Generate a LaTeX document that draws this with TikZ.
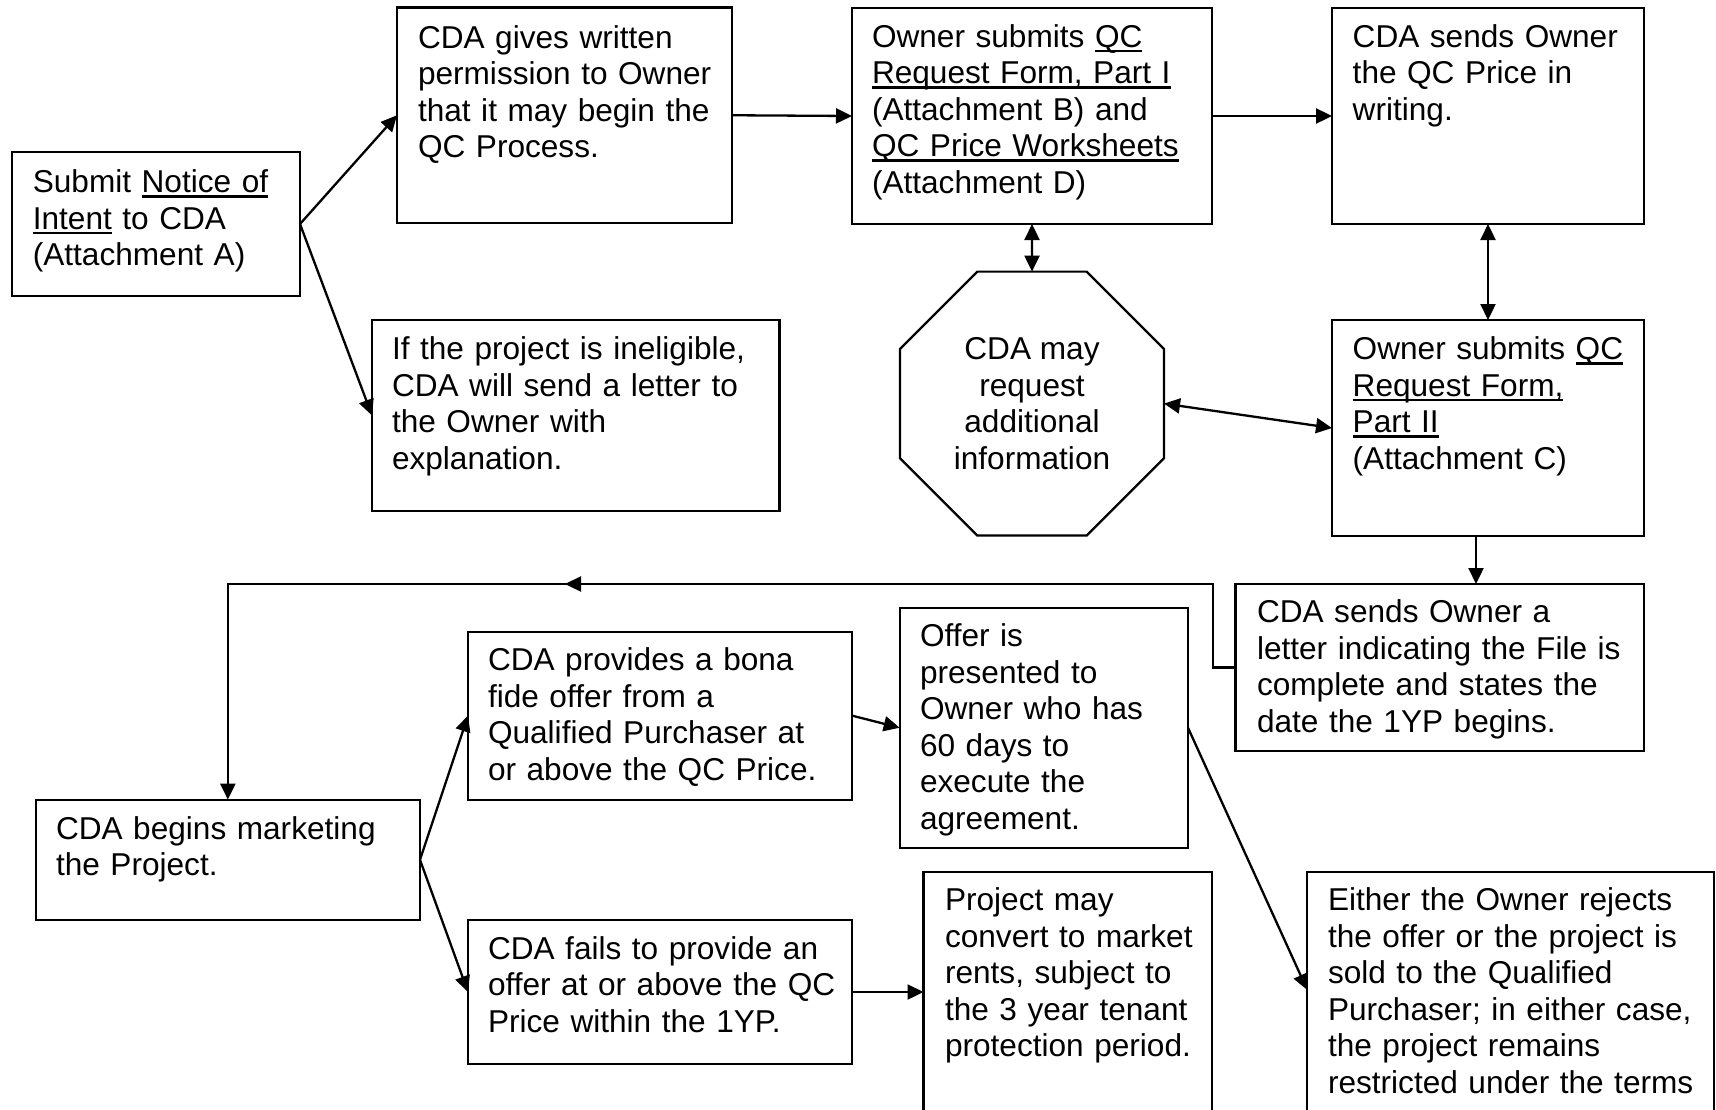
\documentclass[tikz,border=0pt]{standalone}
\usepackage{fontspec}
\setmainfont{Liberation Sans}
\usetikzlibrary{arrows.meta,shapes.geometric}
\newcommand\uln[1]{\leavevmode\setbox0\hbox{#1}\rlap{\rule[-4.6pt]{\wd0}{2.2pt}}\box0\relax}
\tikzset{
  x=1pt,y=-1pt,
  every node/.style={inner sep=0pt,outer sep=0pt},
  box/.style={draw,line width=2.2pt,rectangle},
  txt/.style={anchor=north west,text width=430pt,align=left,
    font=\fontsize{31.6pt}{36.5pt}\selectfont,execute at begin node=\strut},
  octo/.style={draw,line width=2.2pt,regular polygon,regular polygon sides=8,
    minimum size=285.7pt,align=center,font=\fontsize{31.6pt}{36.5pt}\selectfont},
  tip/.tip={Triangle[length=16pt,width=15pt]},
  arr/.style={draw,line width=2.3pt,-tip},
  dbl/.style={draw,line width=2.3pt,tip-tip}
}
\begin{document}
\begin{tikzpicture}
\useasboundingbox (0,0) rectangle (1716,1109);
\fill[white] (0,0) rectangle (1716,1109);
\clip (0,0) rectangle (1716,1109);
% boxes
\node[box,minimum width=288pt,minimum height=144pt] (A) at (156,224) {};
\node[box,minimum width=335pt,minimum height=215.5pt] (B) at (564.5,115.25) {};
\node[box,minimum width=407.5pt,minimum height=191pt] (C) at (575.75,415.5) {};
\node[box,minimum width=360pt,minimum height=216pt] (D) at (1032,116) {};
\node[box,minimum width=312pt,minimum height=216pt] (E) at (1488,116) {};
\node[box,minimum width=312pt,minimum height=216pt] (F) at (1488,428) {};
\node[octo] (O) at (1032,403.6) {CDA may\\request\\additional\\information};
\node[box,minimum width=408.5pt,minimum height=167pt] (G) at (1439.75,667.5) {};
\node[box,minimum width=384.3pt,minimum height=120.4pt] (H) at (227.85,859.8) {};
\node[box,minimum width=384pt,minimum height=168pt] (I) at (660,715.6) {};
\node[box,minimum width=384pt,minimum height=144pt] (J) at (660,992) {};
\node[box,minimum width=288.3pt,minimum height=239.9pt] (K) at (1043.85,727.75) {};
\node[box,minimum width=288.3pt,minimum height=268.4pt] (L) at (1067.65,1005.8) {};
\node[box,minimum width=406.7pt,minimum height=268.4pt] (M) at (1510.65,1005.8) {};
% texts
\node[txt] (tA) at (32.8,167.4) {Submit \uln{Notice of}\\\uln{Intent} to CDA\\(Attachment A)};
\node[txt] (tB) at (418,22.9) {CDA gives written\\permission to Owner\\that it may begin the\\QC Process.};
\node[txt] (tC) at (392,334.4) {If the project is ineligible,\\CDA will send a letter to\\the Owner with\\explanation.};
\node[txt] (tD) at (872,21.9) {Owner submits \uln{QC}\\\uln{Request Form, Part I}\\(Attachment B) and\\\uln{QC Price Worksheets}\\(Attachment D)};
\node[txt] (tE) at (1352.7,21.9) {CDA sends Owner\\the QC Price in\\writing.};
\node[txt] (tF) at (1352.7,334.4) {Owner submits \uln{QC}\\\uln{Request Form,}\\\uln{Part II}\\(Attachment C)};
\node[txt] (tG) at (1257,597.4) {CDA sends Owner a\\letter indicating the File is\\complete and states the\\date the 1YP begins.};
\node[txt] (tH) at (56,813.9) {CDA begins marketing\\the Project.};
\node[txt] (tI) at (488,645.4) {CDA provides a bona\\fide offer from a\\Qualified Purchaser at\\or above the QC Price.};
\node[txt] (tJ) at (488,933.9) {CDA fails to provide an\\offer at or above the QC\\Price within the 1YP.};
\node[txt] (tK) at (920,621.4) {Offer is\\presented to\\Owner who has\\60 days to\\execute the\\agreement.};
\node[txt] (tL) at (945,885.4) {Project may\\convert to market\\rents, subject to\\the 3 year tenant\\protection period.};
\node[txt] (tM) at (1328,885.4) {Either the Owner rejects\\the offer or the project is\\sold to the Qualified\\Purchaser; in either case,\\the project remains\\restricted under the terms};
% connectors
\draw[arr] (A.east) -- (B.west);
\draw[arr] (A.east) -- (C.west);
\draw[arr] (B.east) -- (D.west);
\draw[arr] (D.east) -- (E.west);
\draw[dbl] (D.south) -- (O.north);
\draw[dbl] (E.south) -- (F.north);
\draw[dbl] (O.east) -- (F.west);
\draw[arr] ([xshift=-12pt]F.south) -- ([xshift=-12pt]F.south |- G.north);
\coordinate (c1) at (1213,584);
\coordinate (m1) at (600,584);
\coordinate (m2) at (565,584);
\draw[arr] (G.west) -| (c1) -- (c1 -| H.north) -- (H.north);
\draw[arr] (m1) -- (m2);
\draw[arr] (H.east) -- (I.west);
\draw[arr] (H.east) -- (J.west);
\draw[arr] (I.east) -- (K.west);
\draw[arr] (J.east) -- (J.east -| L.west);
\draw[arr] (K.east) -- ([yshift=-118.4pt]M.north west);
\end{tikzpicture}
\end{document}
